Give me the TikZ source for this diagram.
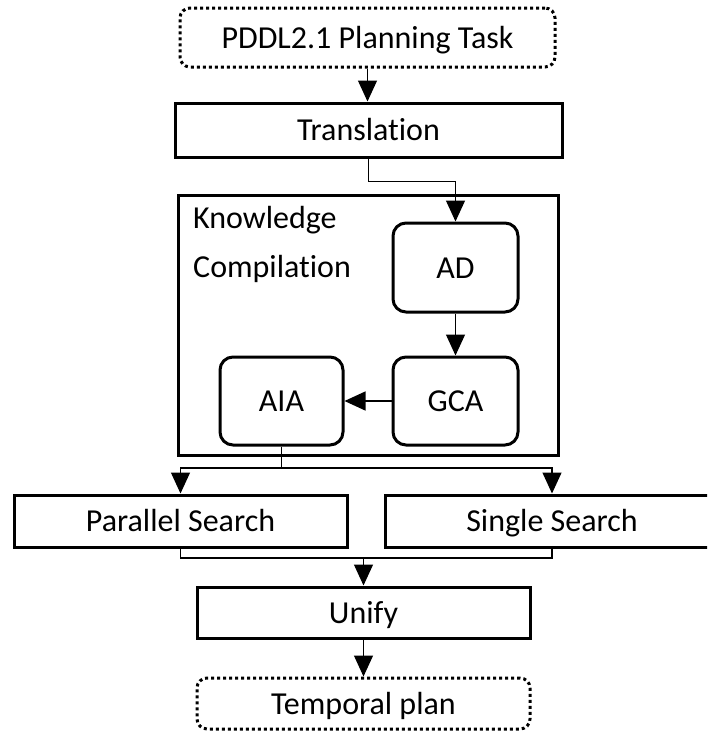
\documentclass[tikz,border=0pt]{standalone}
\usepackage{fontspec}
\setmainfont{Carlito}[Ligatures={NoCommon,NoContextual}]
\usetikzlibrary{arrows.meta}
\begin{document}
\begin{tikzpicture}[x=1pt,y=-1pt,
  box/.style={draw,line width=3pt,inner sep=0pt,text height=21pt,text depth=0pt,font=\fontsize{32}{38}\selectfont},
  rbox/.style={box,rounded corners=13pt},
  dbox/.style={box,rounded corners=10pt,dash pattern=on 3pt off 3pt},
  conn/.style={line width=1.3pt,-{Triangle[width=19pt,length=21pt]}},
  wire/.style={line width=1.3pt},
  lbl/.style={anchor=base west,inner sep=0pt,font=\fontsize{32}{38}\selectfont}]
\path[use as bounding box] (0,0) rectangle (707,731);
\clip (0,0) rectangle (707,731);
\node[dbox,minimum width=375pt,minimum height=59pt] (pddl) at (367.5,37.5) {PDDL2.1 Planning Task};
\node[box,minimum width=387pt,minimum height=54pt] (trans) at (368.5,130) {Translation};
\node[box,minimum width=380pt,minimum height=260pt,text height=,text depth=] (know) at (368,325) {};
\node[lbl] (k1) at (193,228) {Knowledge};
\node[lbl] (k2) at (193,277) {Compilation};
\node[rbox,minimum width=125pt,minimum height=89pt] (ad) at (455.5,267.5) {AD};
\node[rbox,minimum width=125pt,minimum height=88pt] (gca) at (455.5,401) {GCA};
\node[rbox,minimum width=123pt,minimum height=88pt] (aia) at (281.5,401) {AIA};
\node[box,minimum width=333pt,minimum height=52pt] (par) at (180.5,521) {Parallel Search};
\node[box,minimum width=334pt,minimum height=52pt] (sing) at (552,521) {Single Search};
\node[box,minimum width=333pt,minimum height=51pt] (unify) at (363.5,612.5) {Unify};
\node[dbox,minimum width=333pt,minimum height=51pt] (temp) at (363.5,703.5) {Temporal plan};
\coordinate (sp) at (281.5,468);
\coordinate (mg) at (363.5,558);
\draw[conn] (pddl.south) -- (pddl.south |- trans.north);
\draw[conn] (trans.south) -- ++(0,23) -| (ad.north);
\draw[conn] (ad) -- (gca);
\draw[conn] (gca) -- (aia);
\draw[wire] (aia.south) -- (sp);
\draw[conn] (sp) -| (par.north);
\draw[conn] (sp) -| (sing.north);
\draw[wire] (par.south) |- (mg);
\draw[wire] (sing.south) |- (mg);
\draw[conn] (mg) -- (unify.north);
\draw[conn] (unify) -- (temp);
\end{tikzpicture}
\end{document}
